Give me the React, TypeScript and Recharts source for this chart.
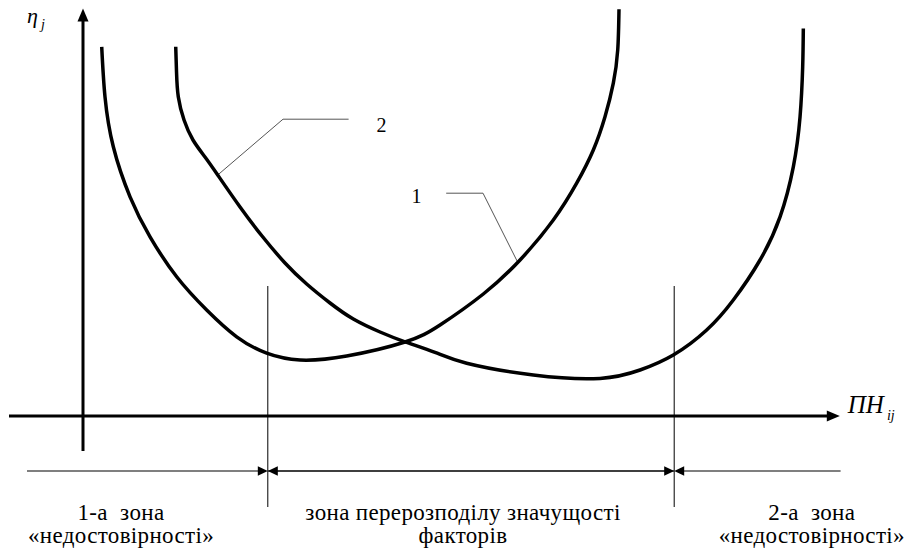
import React from 'react';
import { ComposedChart, Line, XAxis, YAxis, ReferenceLine, ReferenceDot } from 'recharts';

// ---- data (schematic units: x = ПН_ij, y = η_j) ----
const curve1X = [2.34, 2.75, 3.79, 5.88, 8.38, 11.71, 15.46, 19.21, 22.96, 27.13, 32.96, 40.25, 44.63, 50.04, 54.63, 58.79, 61.71, 63.79, 65.25, 66.29, 66.84, 67.0];
const curve1Y = [92.3, 79.8, 67.3, 54.8, 44.8, 34.8, 26.5, 19.8, 15.7, 14.0, 15.0, 18.5, 22.75, 30.5, 39.0, 49.0, 58.2, 66.5, 74.8, 83.2, 91.5, 101.7];
const curve2X = [11.59, 11.69, 11.91, 12.63, 13.75, 15.25, 16.84, 19.63, 22.38, 25.25, 27.96, 30.88, 33.79, 37.13, 40.25, 44.0, 47.96, 56.29, 64.63, 69.63, 73.79, 77.96, 81.29, 84.63, 87.13, 88.79, 89.63, 89.96, 90.04];
const curve2Y = [92.3, 86.0, 79.8, 74.0, 69.0, 64.75, 60.25, 52.25, 45.0, 38.25, 33.0, 28.25, 24.25, 21.0, 18.55, 15.9, 13.2, 10.25, 9.4, 11.5, 15.25, 21.5, 29.0, 39.0, 49.8, 62.3, 74.8, 87.3, 96.9];
const leader1X = [45.4, 50.0, 54.4];
const leader1Y = [55.7, 55.7, 38.2];
const leader2X = [16.84, 25.0, 33.2];
const leader2Y = [60.25, 74.2, 74.2];
const zoneBounds = [23.1, 73.9];
const curveLabels = ['1', '2'];
const axisLabels = ['η', 'j', 'ПН', 'ij'];
const zoneLabels1 = ['1-а  зона', 'зона перерозподілу значущості', '2-а  зона'];
const zoneLabels2 = ['«недостовірності»', 'факторів', '«недостовірності»'];

const toPts = (xs: number[], ys: number[]) => xs.map((x, i) => ({ x, y: ys[i] }));
const curve1 = toPts(curve1X, curve1Y);
const curve2 = toPts(curve2X, curve2Y);
const leader1 = toPts(leader1X, leader1Y);
const leader2 = toPts(leader2X, leader2Y);

const SERIF = "'Liberation Serif', 'Times New Roman', serif";

function makeArrow(sw: number, len: number, half: number) {
  return (p: any) => {
    const x1 = +p.x1, y1 = +p.y1, x2 = +p.x2, y2 = +p.y2;
    const dx = x2 - x1, dy = y2 - y1;
    const L = Math.hypot(dx, dy) || 1;
    const ux = dx / L, uy = dy / L;
    const bx = x2 - ux * len, by = y2 - uy * len;
    const nx = -uy, ny = ux;
    return (
      <g>
        <line x1={x1} y1={y1} x2={bx + ux * 1} y2={by + uy * 1} stroke="#000" strokeWidth={sw} />
        <polygon
          points={`${x2},${y2} ${bx + nx * half},${by + ny * half} ${bx - nx * half},${by - ny * half}`}
          fill="#000"
        />
      </g>
    );
  };
}

const axisArrow = makeArrow(3, 13, 5.5);
const zoneArrow = makeArrow(1.2, 10, 4.8);

function textShape(content: React.ReactNode, size: number, anchor: string = 'middle', italic = false, spacing = 0) {
  return (p: any) => (
    <text
      x={p.cx}
      y={p.cy}
      textAnchor={anchor}
      fill="#000"
      style={{
        whiteSpace: 'pre',
        fontFamily: SERIF,
        fontSize: size,
        fontStyle: italic ? 'italic' : 'normal',
        letterSpacing: spacing,
      }}
    >
      {content}
    </text>
  );
}

const zoneCentersX = [4.75, 47.5, 91.1];

export default function App() {
  return (
    <div style={{ position: 'absolute', left: 0, top: 0, width: 908, height: 552, background: '#fff' }}>
      <ComposedChart width={908} height={552} margin={{ top: 0, right: 0, bottom: 0, left: 0 }}>
        <XAxis type="number" dataKey="x" domain={[-10.375, 103.125]} allowDataOverflow hide />
        <YAxis type="number" dataKey="y" domain={[-34, 104]} allowDataOverflow hide />

        <ReferenceLine segment={[{ x: -9.25, y: 0 }, { x: 94.6, y: 0 }]} shape={axisArrow} ifOverflow="visible" />
        <ReferenceLine segment={[{ x: 0, y: -8.75 }, { x: 0, y: 101.9 }]} shape={axisArrow} ifOverflow="visible" />

        {zoneBounds.map((b) => (
          <ReferenceLine
            key={'zb' + b}
            segment={[{ x: b, y: 32.5 }, { x: b, y: -22.75 }]}
            stroke="#000"
            strokeWidth={1}
            ifOverflow="visible"
          />
        ))}

        <ReferenceLine segment={[{ x: -7.0, y: -13.75 }, { x: zoneBounds[0], y: -13.75 }]} shape={zoneArrow} ifOverflow="visible" />
        <ReferenceLine segment={[{ x: zoneBounds[1], y: -13.75 }, { x: zoneBounds[0], y: -13.75 }]} shape={zoneArrow} ifOverflow="visible" />
        <ReferenceLine segment={[{ x: zoneBounds[0], y: -13.75 }, { x: zoneBounds[1], y: -13.75 }]} shape={zoneArrow} ifOverflow="visible" />
        <ReferenceLine segment={[{ x: 94.7, y: -13.75 }, { x: zoneBounds[1], y: -13.75 }]} shape={zoneArrow} ifOverflow="visible" />

        <Line data={leader1} dataKey="y" type="linear" stroke="#555" strokeWidth={1} dot={false} activeDot={false} isAnimationActive={false} />
        <Line data={leader2} dataKey="y" type="linear" stroke="#555" strokeWidth={1} dot={false} activeDot={false} isAnimationActive={false} />

        <Line data={curve1} dataKey="y" type="natural" stroke="#000" strokeWidth={3.5} dot={false} activeDot={false} isAnimationActive={false} />
        <Line data={curve2} dataKey="y" type="natural" stroke="#000" strokeWidth={3.5} dot={false} activeDot={false} isAnimationActive={false} />

        <ReferenceDot x={41.7} y={53.2} r={1} shape={textShape(curveLabels[0], 20)} />
        <ReferenceDot x={37.3} y={71.1} r={1} shape={textShape(curveLabels[1], 20)} />

        <ReferenceDot
          x={-7.0}
          y={98.25}
          r={1}
          shape={textShape(
            <>
              <tspan>{axisLabels[0]}</tspan>
              <tspan dx={3} dy={6} style={{ fontSize: 14 }}>{axisLabels[1]}</tspan>
            </>,
            22,
            'start',
            true
          )}
        />
        <ReferenceDot
          x={95.6}
          y={0.67}
          r={1}
          shape={textShape(
            <>
              <tspan>{axisLabels[2]}</tspan>
              <tspan dx={3} dy={7} style={{ fontSize: 14 }}>{axisLabels[3]}</tspan>
            </>,
            25,
            'start',
            true
          )}
        />

        {zoneLabels1.map((t, i) => (
          <ReferenceDot key={'z1' + i} x={zoneCentersX[i]} y={-26} r={1} shape={textShape(t, 23, 'middle', false, 0.35)} ifOverflow="visible" />
        ))}
        {zoneLabels2.map((t, i) => (
          <ReferenceDot key={'z2' + i} x={zoneCentersX[i]} y={-31.75} r={1} shape={textShape(t, 23, 'middle', false, 0.35)} ifOverflow="visible" />
        ))}
      </ComposedChart>
    </div>
  );
}
